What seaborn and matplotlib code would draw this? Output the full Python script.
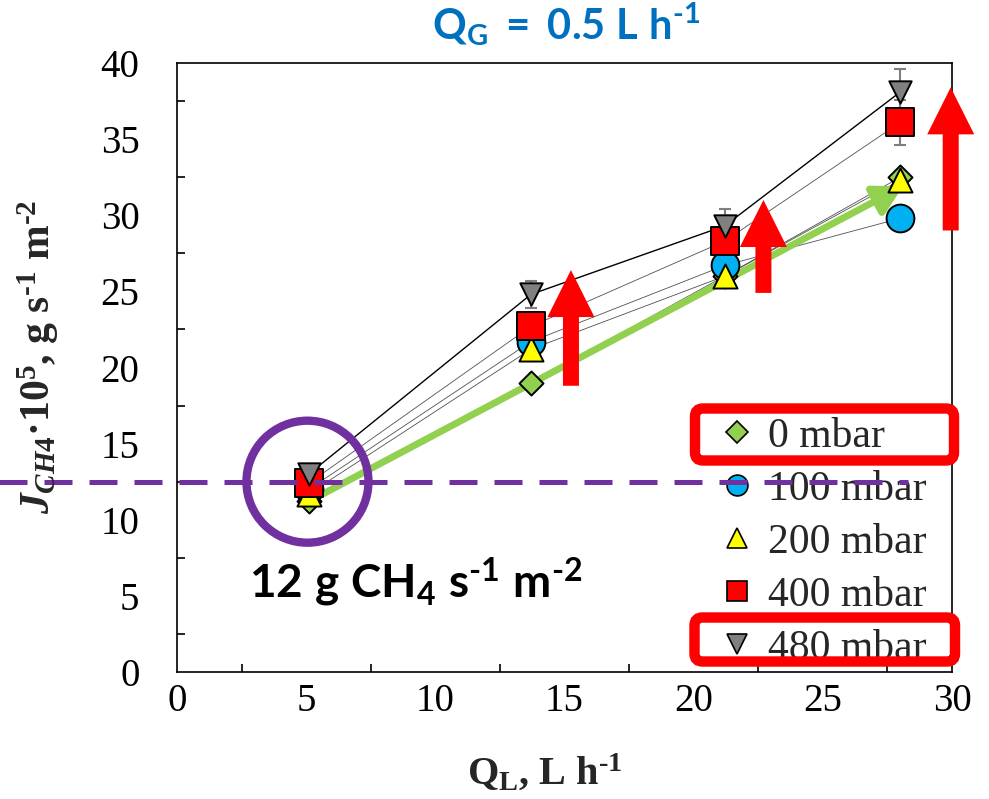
import matplotlib
matplotlib.use("Agg")
import matplotlib.pyplot as plt
import seaborn as sns
from matplotlib.lines import Line2D
from matplotlib.patches import Ellipse, FancyArrow, FancyBboxPatch

# Liquid flow rate, L/h
ql = [5.1, 13.7, 21.2, 28.0]

# Methane flux (x1e5, g s-1 m-2) per vacuum level
series = ["0 mbar", "100 mbar", "200 mbar", "400 mbar", "480 mbar"]
j_0 = [11.2, 19.0, 26.0, 32.5]
j_100 = [12.0, 21.7, 26.7, 29.8]
j_200 = [11.7, 21.2, 26.0, 32.3]
j_400 = [12.4, 22.7, 28.3, 36.1]
j_480 = [13.0, 24.8, 29.3, 38.1]
err_400 = [0.3, 0.5, 0.6, 1.5]
err_480 = [0.3, 0.9, 1.1, 1.5]

values = {"0 mbar": j_0, "100 mbar": j_100, "200 mbar": j_200,
          "400 mbar": j_400, "480 mbar": j_480}
errors = {"400 mbar": err_400, "480 mbar": err_480}

# marker, face colour, scatter size, legend marker size
styles = {
    "0 mbar": ("D", "#92D050", 150, 11),
    "100 mbar": ("o", "#00B0F0", 400, 15),
    "200 mbar": ("^", "#FFFF00", 300, 15),
    "400 mbar": ("s", "#FF0000", 400, 15),
    "480 mbar": ("v", "#808080", 260, 15),
}

flux_threshold = 12.5
x_ticks = [0, 5, 10, 15, 20, 25, 30]
y_ticks = [0, 5, 10, 15, 20, 25, 30, 35, 40]

sns.set_style("white")
plt.rcParams["font.family"] = ["Liberation Serif", "DejaVu Sans"]
plt.rcParams["mathtext.fontset"] = "custom"
plt.rcParams["mathtext.rm"] = "Liberation Serif:bold"
plt.rcParams["mathtext.it"] = "Liberation Serif:italic:bold"
plt.rcParams["mathtext.bf"] = "Liberation Serif:bold"
plt.rcParams["mathtext.sf"] = "Lato:bold"

HY = "\u2010"  # short hyphen for the exponents

W, H = 989, 799
fig = plt.figure(figsize=(W / 100, H / 100), dpi=100)
ax = fig.add_axes([177 / W, 1 - 672 / H, (952 - 177) / W, (672 - 63) / H])
ax.set_xlim(0, 30)
ax.set_ylim(0, 40)

# connecting lines
for name in series:
    lw, col = (1.0, "black") if name == "480 mbar" else (0.6, "#505050")
    sns.lineplot(x=ql, y=values[name], ax=ax, color=col, lw=lw,
                 estimator=None, sort=False, zorder=2, legend=False)

# trend arrow
ax.annotate("", xy=(28.1, 31.9), xytext=(5.1, 11.2),
            arrowprops=dict(arrowstyle="-|>,head_length=0.9,head_width=0.5",
                            color="#92D050", lw=5, mutation_scale=19,
                            shrinkA=0, shrinkB=0), zorder=3)

# error bars
for name, err in errors.items():
    ax.errorbar(ql, values[name], yerr=err, fmt="none", ecolor="#7F7F7F",
                elinewidth=1.5, capsize=4.5, capthick=1.5, zorder=3)

# markers
for i, name in enumerate(series):
    m, c, s, _ = styles[name]
    sns.scatterplot(x=ql, y=values[name], ax=ax, marker=m, color=c, s=s,
                    edgecolor="black", linewidth=1.4, zorder=4 + i, legend=False)

# axes styling
for sp in ax.spines.values():
    sp.set_color("black")
    sp.set_linewidth(1.2)
ax.set_xticks(x_ticks)
ax.set_yticks(y_ticks)
ax.set_xticks([2.5, 7.5, 12.5, 17.5, 22.5, 27.5], minor=True)
ax.set_yticks([2.5, 7.5, 12.5, 17.5, 22.5, 27.5, 32.5, 37.5], minor=True)
ax.tick_params(axis="x", which="major", direction="inout", length=12, width=1.2,
               labelsize=28, pad=2, colors="black")
ax.tick_params(axis="y", which="major", direction="out", length=8, width=1.2,
               labelsize=28, pad=19, colors="black")
ax.tick_params(which="minor", direction="in", length=6, width=1.2, colors="black")
ax.tick_params(axis="x", which="minor", bottom=True)
ax.tick_params(axis="y", which="minor", left=True)
ax.set_xlabel("")
ax.set_ylabel("")

# red arrows
px_x = ax.get_position().width * W / 30
px_y = ax.get_position().height * H / 40
for xa, y0, y1 in [(15.25, 18.8, 26.4), (22.7, 24.9, 31.0), (29.95, 29.0, 38.4)]:
    arr = FancyArrow(xa, y0, 0, y1 - y0, width=16 / px_x, head_width=47 / px_x,
                     head_length=47 / px_y, length_includes_head=True,
                     color="#FF0000", lw=0, clip_on=False, zorder=8)
    ax.add_patch(arr)

# threshold circle and line
ring = Ellipse((5.05, flux_threshold), 122 / px_x, 122 / px_y, fill=False,
               ec="#7030A0", lw=6, clip_on=False, zorder=9)
ax.add_patch(ring)
ax.plot([-7.0, 28.3], [flux_threshold, flux_threshold], color="#7030A0", lw=3.6,
        dashes=(5.6, 3.4), clip_on=False, zorder=10)

# legend
handles = [Line2D([], [], ls="none", marker=styles[n][0], mfc=styles[n][1],
                  mec="black", mew=1.2, ms=styles[n][3]) for n in series]
ax.legend(handles, series, loc="upper left", bbox_to_anchor=(716 / W, 1 - 417 / H),
          bbox_transform=fig.transFigure, frameon=False, fontsize=30,
          handlelength=1.0, handletextpad=0.25, labelspacing=0.35,
          borderpad=0, borderaxespad=0)

# highlight boxes around two legend entries
for (x0, y0, x1, y1) in [(695, 408.5, 954, 460.5), (694.5, 617.5, 955, 661.5)]:
    box = FancyBboxPatch((x0 / 100, (H - y1) / 100), (x1 - x0) / 100, (y1 - y0) / 100,
                         boxstyle="round,pad=0,rounding_size=0.08",
                         transform=fig.dpi_scale_trans, fill=False,
                         ec="#FF0000", lw=7.5, zorder=20)
    fig.add_artist(box)

# labels and annotations
fig.text(566 / W, 1 - 25 / H, r"$\mathsf{Q_{G}\ =\ 0.5\ L\ h^{" + HY + "1}}$",
         color="#0070C0", fontsize=30, ha="center", va="center")
fig.text(416 / W, 1 - 582 / H,
         r"$\mathsf{12\ g\ CH_{4}\ s^{" + HY + r"1}\ m^{" + HY + "2}}$",
         color="black", fontsize=33, ha="center", va="center")
fig.text(545 / W, 1 - 772 / H, r"Q$_{\mathrm{L}}$, L h$^{" + HY + "1}$",
         fontsize=29, fontweight="bold", ha="center", va="center")
fig.text(38 / W, 1 - 357 / H,
         r"$J_{\mathit{CH4}}$·10$^{5}$, g s$^{" + HY + "1}$ m$^{" + HY + "2}$",
         fontsize=30, fontweight="bold", rotation=90, ha="center", va="center")

fig.savefig("out.png", dpi=100)
